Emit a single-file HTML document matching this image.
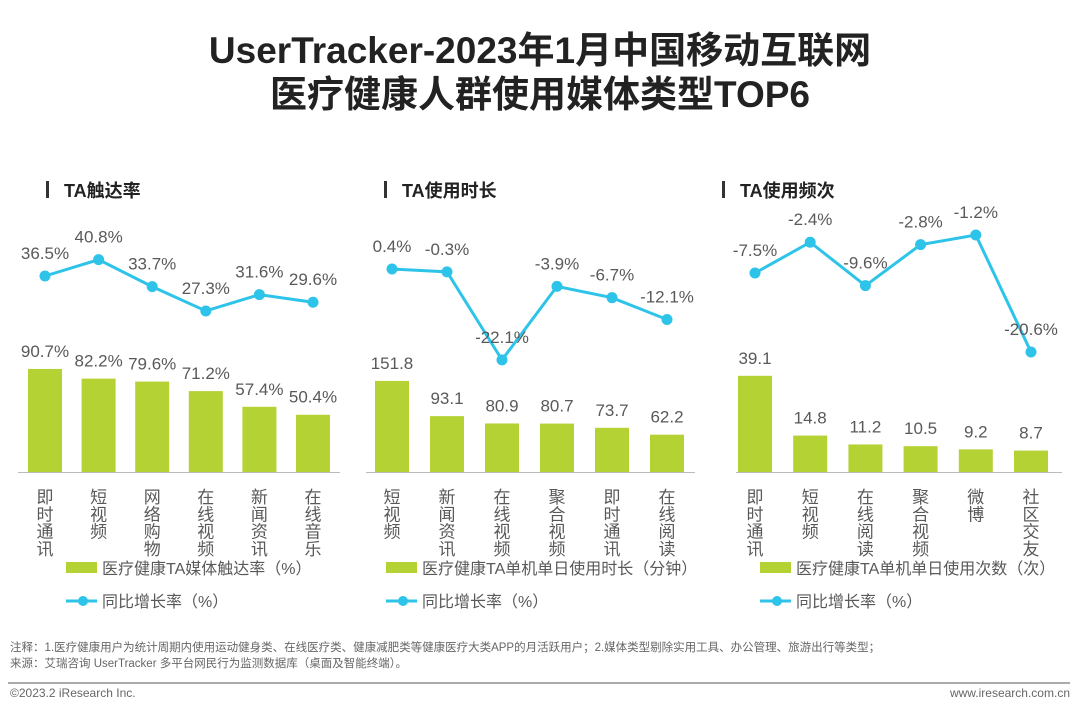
<!DOCTYPE html>
<html><head><meta charset="utf-8">
<style>
body{margin:0;width:1080px;height:717px;background:#fff;overflow:hidden;font-family:"Liberation Sans","Noto Sans CJK SC",sans-serif;}
.t{position:absolute;left:0;width:1080px;text-align:center;font-weight:bold;font-size:37px;color:#222;}
</style></head><body>
<div class="t" style="top:20px">UserTracker-2023年1月中国移动互联网</div>
<div class="t" style="top:64px">医疗健康人群使用媒体类型TOP6</div>
<svg id="c" width="1080" height="717" style="position:absolute;left:0;top:0"></svg>
<div style="position:absolute;left:10px;top:640px;font-size:11.5px;color:#666;line-height:16px">注释：1.医疗健康用户为统计周期内使用运动健身类、在线医疗类、健康减肥类等健康医疗大类APP的月活跃用户；2.媒体类型剔除实用工具、办公管理、旅游出行等类型；<br>来源：艾瑞咨询 UserTracker 多平台网民行为监测数据库（桌面及智能终端）。</div>
<div style="position:absolute;left:8px;top:682px;width:1062px;height:2px;background:#aaa"></div>
<div style="position:absolute;left:10px;top:686px;font-size:12px;color:#666">©2023.2 iResearch Inc.</div>
<div style="position:absolute;right:10px;top:686px;font-size:12px;color:#666">www.iresearch.com.cn</div>
<script>
const cats1=["即时通讯","短视频","网络购物","在线视频","新闻资讯","在线音乐"];
const bars1=[90.7,82.2,79.6,71.2,57.4,50.4];
const line1=[36.5,40.8,33.7,27.3,31.6,29.6];
const barLbl1=["90.7%","82.2%","79.6%","71.2%","57.4%","50.4%"];
const lineLbl1=["36.5%","40.8%","33.7%","27.3%","31.6%","29.6%"];
const cats2=["短视频","新闻资讯","在线视频","聚合视频","即时通讯","在线阅读"];
const bars2=[151.8,93.1,80.9,80.7,73.7,62.2];
const line2=[0.4,-0.3,-22.1,-3.9,-6.7,-12.1];
const cats3=["即时通讯","短视频","在线阅读","聚合视频","微博","社区交友"];
const bars3=[39.1,14.8,11.2,10.5,9.2,8.7];
const line3=[-7.5,-2.4,-9.6,-2.8,-1.2,-20.6];
const NS="http://www.w3.org/2000/svg";
const svg=document.getElementById('c');
function mk(tag,attrs,parent){const e=document.createElementNS(NS,tag);for(const k in attrs)e.setAttribute(k,attrs[k]);(parent||svg).appendChild(e);return e;}
function txt(s,x,y,attrs,name){const e=mk('text',Object.assign({x:x,y:y,'font-size':17,fill:'#595959','text-anchor':'middle'},attrs));e.textContent=s;

return e;}
const panels=[
 {title:"TA触达率",tx:46,x0:45,step:53.6,ax0:18,ax1:340,bs:1.136,lref:36.5,ly:276,ls:3.8,cats:cats1,bars:bars1,line:line1,bl:barLbl1,ll:lineLbl1,lx:66,leg:"医疗健康TA媒体触达率（%）"},
 {title:"TA使用时长",tx:384,x0:392,step:55,ax0:366,ax1:695,bs:0.6,lref:0.4,ly:269,ls:4.04,cats:cats2,bars:bars2,line:line2,lx:386,leg:"医疗健康TA单机单日使用时长（分钟）"},
 {title:"TA使用频次",tx:722,x0:755,step:55.2,ax0:736,ax1:1062,bs:2.46,lref:-7.5,ly:273,ls:6.03,cats:cats3,bars:bars3,line:line3,lx:760,leg:"医疗健康TA单机单日使用次数（次）"}];
const base=472;
panels.forEach((p,pi)=>{
 const g=mk('g',{});
 
 
 const tb=mk('rect',{x:p.tx,y:181,width:3,height:17,fill:'#333'},g);
 
 
 txt(p.title,p.tx+18,197,{'font-size':18,'font-weight':'bold',fill:'#222','text-anchor':'start'},'panel-title');
 const xs=i=>p.x0+i*p.step;
 const by=v=>base-v*p.bs;
 const yl=v=>p.ly-(v-p.lref)*p.ls;
 p.bars.forEach((v,i)=>{
  const r=mk('rect',{x:xs(i)-17,y:by(v),width:34,height:base-by(v),fill:'#b4d234'},g);
  
  
  txt(p.bl?p.bl[i]:v.toFixed(1),xs(i),by(v)-12,{},'bar-value');
 });
 const ax=mk('line',{x1:p.ax0,x2:p.ax1,y1:base+0.5,y2:base+0.5,stroke:'#bbb','stroke-width':1},g);
 
 
 p.cats.forEach((c,i)=>{[...c].forEach((ch,j)=>txt(ch,xs(i),503+j*17.3,{'font-size':17},'category-label'));});
 const pts=p.line.map((v,i)=>xs(i)+','+yl(v)).join(' ');
 const pl=mk('polyline',{points:pts,fill:'none',stroke:'#2ec3e8','stroke-width':3},g);
 
 
 p.line.forEach((v,i)=>{
  const c=mk('circle',{cx:xs(i),cy:yl(v),r:5.5,fill:'#2ec3e8'},g);
  
  
  txt(p.ll?p.ll[i]:v.toFixed(1)+'%',xs(i),yl(v)-17,{},'growth-value');
 });
 const lr=mk('rect',{x:p.lx,y:562,width:31,height:11,fill:'#b4d234'},g);
 
 
 txt(p.leg,p.lx+36,574,{'text-anchor':'start','font-size':16},'legend-bar-label');
 const ll=mk('line',{x1:p.lx,x2:p.lx+31,y1:601,y2:601,stroke:'#2ec3e8','stroke-width':3},g);
 
 
 const lc=mk('circle',{cx:p.lx+17,cy:601,r:5,fill:'#2ec3e8'},g);
 
 
 txt('同比增长率（%）',p.lx+36,607,{'text-anchor':'start','font-size':16},'legend-line-label');
});
</script>
</body></html>
